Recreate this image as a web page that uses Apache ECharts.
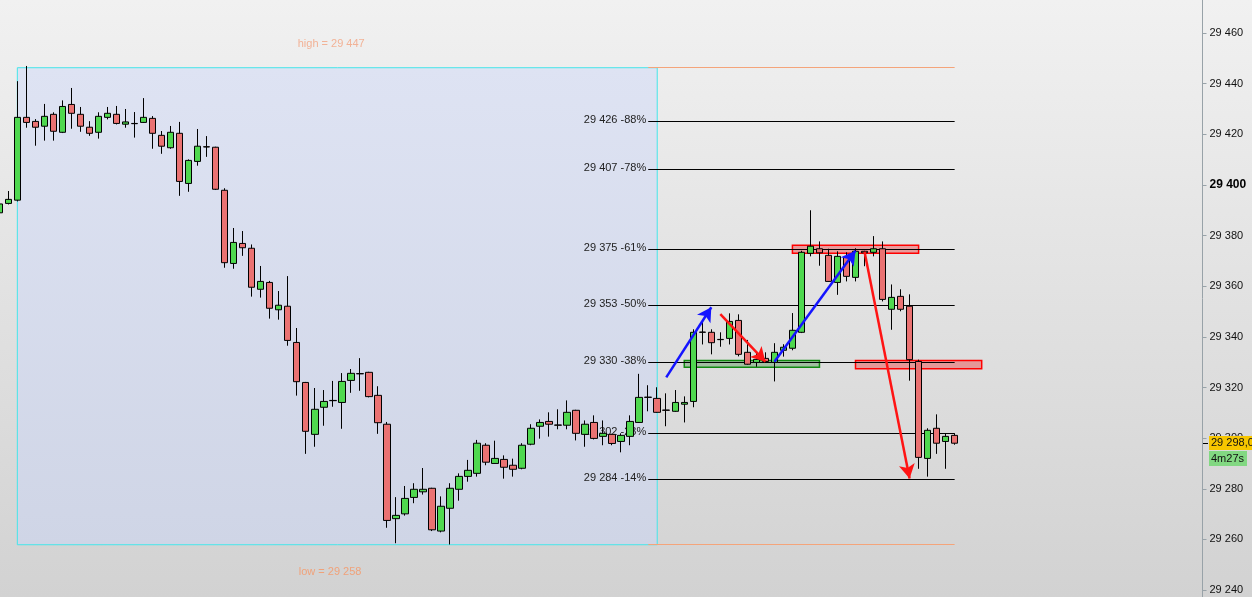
<!DOCTYPE html>
<html><head><meta charset="utf-8">
<script src="https://cdn.jsdelivr.net/npm/echarts/dist/echarts.min.js"></script>
<style>
html,body{margin:0;padding:0;}
#c{width:1252px;height:597px;background:linear-gradient(to bottom,#f1f1f1 0%,#d2d2d2 100%);}
</style>
</head><body><div id="c"></div>
<script>
// ---- data ----
const open = [29389.0,29392.7,29394.0,29426.7,29425.1,29423.2,29427.9,29420.8,29431.8,29427.9,
29422.8,29420.8,29426.7,29427.9,29424.0,29424.3,29424.7,29426.3,29419.6,29414.7,
29420.4,29400.6,29409.3,29415.1,29414.9,29397.9,29369.0,29376.9,29375.0,29358.8,
29361.5,29350.7,29352.1,29337.8,29322.0,29301.5,29312.2,29314.9,29314.1,29322.8,
29325.5,29326.0,29316.9,29305.5,29268.2,29270.1,29276.6,29278.8,29280.2,29263.3,
29272.3,29279.8,29284.9,29286.1,29297.2,29290.0,29291.6,29289.3,29288.1,29297.6,
29304.7,29306.6,29305.2,29305.1,29311.0,29301.5,29306.2,29300.7,29301.5,29298.7,
29300.7,29306.2,29316.2,29315.7,29311.1,29310.6,29313.4,29314.5,29341.9,29341.8,
29339.0,29339.4,29346.5,29333.9,29329.9,29331.5,29329.9,29334.7,29335.5,29341.8,
29373.0,29374.8,29372.2,29361.5,29371.4,29363.5,29373.8,29373.4,29374.8,29350.9,
29356.0,29352.1,29330.3,29292.0,29303.9,29298.7,29301.1];
const close = [29392.5,29394.3,29426.7,29424.7,29422.8,29427.1,29421.2,29431.0,29428.3,29423.2,
29420.4,29427.1,29428.3,29424.3,29424.9,29424.2,29426.7,29420.4,29415.3,29420.8,
29401.4,29409.7,29415.3,29415.0,29398.3,29369.3,29377.3,29375.2,29359.6,29361.9,
29351.3,29352.5,29338.6,29322.3,29302.7,29311.4,29314.5,29314.8,29322.4,29325.6,
29325.4,29316.4,29306.1,29267.5,29269.5,29276.2,29279.8,29279.8,29263.8,29273.1,
29280.2,29284.9,29287.3,29298.0,29290.5,29292.0,29288.5,29287.7,29297.2,29303.9,
29306.2,29305.5,29305.1,29310.2,29301.9,29305.5,29299.9,29301.9,29297.9,29301.1,
29306.6,29316.1,29316.1,29310.2,29311.0,29314.1,29314.1,29341.8,29341.8,29337.7,
29338.9,29346.1,29333.1,29329.2,29331.1,29330.3,29333.9,29335.9,29342.6,29373.4,
29375.8,29373.2,29361.9,29371.8,29363.9,29373.8,29373.2,29374.8,29354.8,29355.6,
29350.9,29331.0,29292.4,29303.1,29298.0,29300.7,29298.0];
const low = [29388.0,29392.3,29393.5,29422.6,29415.5,29417.5,29417.5,29420.5,29422.2,29421.0,
29419.4,29418.3,29425.9,29423.9,29422.6,29418.7,29424.5,29414.3,29412.3,29414.3,
29395.7,29397.3,29407.6,29411.1,29398.0,29367.3,29366.9,29372.0,29355.9,29355.5,
29347.2,29346.8,29336.5,29316.8,29293.8,29296.6,29304.9,29312.4,29303.7,29317.9,
29318.7,29316.1,29301.7,29264.6,29258.5,29269.4,29274.3,29277.7,29263.3,29262.8,
29258.0,29275.3,29282.8,29284.8,29289.3,29289.9,29284.0,29284.8,29287.7,29297.2,
29299.8,29300.6,29303.5,29303.5,29299.1,29296.6,29299.5,29297.2,29297.2,29294.4,
29297.2,29306.0,29310.6,29310.0,29304.7,29310.4,29306.2,29312.2,29337.0,29333.1,
29336.1,29337.0,29332.3,29329.0,29328.2,29330.1,29322.4,29332.2,29334.7,29341.5,
29371.8,29368.1,29361.8,29356.6,29361.9,29361.9,29367.9,29371.8,29354.0,29342.8,
29350.1,29322.7,29287.9,29284.8,29293.8,29287.9,29297.4];
const high = [29393.0,29397.6,29441.0,29447.0,29426.0,29432.0,29428.7,29433.4,29438.3,29430.8,
29425.2,29428.7,29430.8,29431.2,29430.0,29428.8,29434.3,29427.2,29421.3,29423.3,
29424.9,29410.1,29422.1,29419.3,29415.1,29398.7,29383.0,29381.8,29376.5,29368.0,
29362.1,29358.1,29364.0,29343.5,29322.2,29319.8,29319.0,29322.6,29325.7,29327.3,
29331.6,29326.2,29320.5,29306.4,29276.7,29281.1,29282.2,29288.2,29280.4,29277.0,
29282.2,29286.1,29291.4,29299.3,29298.0,29299.0,29293.2,29291.9,29298.0,29305.5,
29307.4,29310.2,29311.4,29314.9,29311.2,29307.0,29309.0,29307.0,29301.7,29301.9,
29309.0,29325.4,29320.9,29320.1,29317.7,29319.0,29316.5,29343.0,29346.8,29343.0,
29341.8,29349.3,29348.9,29338.8,29333.9,29333.9,29337.5,29337.1,29349.4,29374.0,
29390.0,29377.7,29374.8,29373.8,29373.4,29375.0,29374.0,29379.8,29377.7,29360.7,
29358.8,29356.8,29331.0,29303.9,29309.4,29301.9,29301.9];
const slotCount = 134;                       // bar slots on the time axis (incl. empty right side)
const categories = Array.from({length: slotCount}, (_, i) => String(i));
const yTicks = {min: 29220, max: 29480, step: 20};
const rangeHigh = 29446.3, rangeLow = 29257.9;          // drawn level of the high/low box
const rangeHighText = 'high = 29 447', rangeLowText = 'low = 29 258';
const rangeStart = 2, rangeEnd = 73;         // shaded high/low box (bar slots)
const fibStart = 72, fibEnd = 106;
const fibLevels = [29425.2, 29406.3, 29374.7, 29352.6, 29330.1, 29302.0, 29283.9];
const fibLabels = ['29 426 -88%', '29 407 -78%', '29 375 -61%', '29 353 -50%', '29 330 -38%', '29 302 -23%', '29 284 -14%'];
const greenZone = {x: [76, 91], y: [29328, 29330.7]};
const redZones = [{x: [88, 102], y: [29373, 29376.2]}, {x: [95, 109], y: [29327.4, 29330.7]}];
const arrows = [
  {from: [74, 29324.0], to: [79, 29351.7], color: '#1414ff'},
  {from: [80, 29349.0], to: [85, 29330.2], color: '#ff1414'},
  {from: [86, 29330.2], to: [95, 29374.0], color: '#1414ff'},
  {from: [96, 29373.6], to: [101, 29284.1], color: '#ff1414'}
];
const lastPriceText = '29 298,0';
const timerText = '4m27s';

// ---- build ----
const fmt = v => { const s = String(Math.round(v)); return s.slice(0, -3) + ' ' + s.slice(-3); };
const candles = open.map((o, i) => [o, close[i], low[i], high[i]]);
const FONT = 'Liberation Sans, Arial, sans-serif';

const gridLeft = -5.2, gridTop = -17.6, gridW = 1207.7, gridH = 658.3;

const chart = echarts.init(document.getElementById('c'), null, {renderer: 'canvas'});
const option = {
  backgroundColor: 'transparent',
  animation: false,
  grid: {left: gridLeft, top: gridTop, width: gridW, height: gridH, outerBoundsMode: 'none', containLabel: false},
  xAxis: {type: 'category', data: categories, show: false, boundaryGap: true},
  yAxis: {
    type: 'value', position: 'right', min: yTicks.min, max: yTicks.max, interval: yTicks.step,
    scale: true,
    axisLine: {show: true, lineStyle: {color: '#98a2a8', width: 1}},
    axisTick: {show: true, length: 4, lineStyle: {color: '#98a2a8'}},
    splitLine: {show: false},
    axisLabel: {
      margin: 7, color: '#111', fontSize: 11, fontFamily: FONT,
      formatter: v => v === 29400 ? '{b|' + fmt(v) + '}' : fmt(v),
      rich: {b: {fontWeight: 'bold', fontSize: 12, color: '#000', fontFamily: FONT}}
    }
  },
  series: [
    {
      name: 'range', type: 'line', data: [], silent: true,
      markArea: {
        z: 1, silent: true,
        itemStyle: {
          color: {type: 'linear', x: 0, y: 0, x2: 0, y2: 1,
            colorStops: [{offset: 0, color: '#dee3f3'}, {offset: 1, color: '#cfd5e6'}]},
          borderColor: '#45e6ea', borderWidth: 1
        },
        data: [[{coord: [rangeStart, rangeHigh]}, {coord: [rangeEnd, rangeLow]}]]
      },
      markLine: {
        z: 2, silent: true, symbol: ['none', 'none'], label: {show: false},
        lineStyle: {color: '#f4a47a', width: 1, type: 'solid'},
        data: [
          [{coord: [fibStart, rangeHigh]}, {coord: [fibEnd, rangeHigh]}],
          [{coord: [fibStart, rangeLow]}, {coord: [fibEnd, rangeLow]}]
        ]
      }
    },
    {
      name: 'fib', type: 'line', data: [], silent: true,
      markLine: {
        z: 2, silent: true, symbol: ['none', 'none'],
        lineStyle: {color: '#000', width: 1, type: 'solid'},
        label: {show: true, position: 'start', formatter: '{b}', distance: 2, color: '#222',
          fontSize: 11, fontFamily: FONT, offset: [0, -1]},
        emphasis: {disabled: true},
        data: fibLevels.map((v, i) => [
          {name: fibLabels[i], coord: [fibStart, v]},
          {coord: [fibEnd, v]}
        ])
      },
      markArea: {
        z: 2, silent: true,
        data: [
          [{coord: [greenZone.x[0], greenZone.y[1]],
            itemStyle: {color: 'rgba(20,120,20,0.3)', borderColor: '#118a11', borderWidth: 1.5}},
           {coord: [greenZone.x[1], greenZone.y[0]]}]
        ].concat(redZones.map(z => [
          {coord: [z.x[0], z.y[1]], itemStyle: {color: 'rgba(240,40,40,0.38)', borderColor: '#f00', borderWidth: 1.5}},
          {coord: [z.x[1], z.y[0]]}
        ]))
      }
    },
    {
      name: 'price', type: 'candlestick', z: 3, data: candles, barWidth: 7, silent: true,
      itemStyle: {
        color: '#4fd84f', color0: '#ea7272',
        borderColor: '#000', borderColor0: '#000', borderColorDoji: '#000', borderWidth: 1
      }
    },
    {
      name: 'arrows', type: 'line', data: [], silent: true,
      markLine: {
        z: 5, silent: true, symbol: ['none', 'arrow'], symbolSize: [12, 14],
        label: {show: false}, emphasis: {disabled: true},
        data: arrows.map(a => [
          {coord: a.from, lineStyle: {color: a.color, width: 2.5, type: 'solid'}},
          {coord: a.to}
        ])
      }
    }
  ]
};
chart.setOption(option);

// overlay texts / price tags positioned through the chart's own scales
const xPix = i => chart.convertToPixel({xAxisIndex: 0}, i);
const yPix = v => chart.convertToPixel({yAxisIndex: 0}, v);
const axisX = Math.round(gridLeft + gridW);
const yLast = Math.round(yPix(close[close.length - 1]));
chart.setOption({
  graphic: [
    {type: 'text', x: xPix(33) + 1, y: yPix(rangeHigh) - 24, z: 10,
      style: {text: rangeHighText, fill: '#f2b296', font: '11px ' + FONT, textVerticalAlign: 'middle'}},
    {type: 'text', x: xPix(33) + 2, y: yPix(rangeLow) + 27, z: 10,
      style: {text: rangeLowText, fill: '#f0a27a', font: '11px ' + FONT, textVerticalAlign: 'middle'}},
    {type: 'line', z: 10, shape: {x1: axisX, y1: yLast + 0.5, x2: axisX + 5, y2: yLast + 0.5}, style: {stroke: '#000', lineWidth: 1}},
    {type: 'rect', z: 10, shape: {x: axisX + 6, y: yLast - 7, width: 45, height: 14}, style: {fill: '#f7c600'}},
    {type: 'text', z: 11, x: axisX + 8, y: yLast, style: {text: lastPriceText, fill: '#111', font: '11px ' + FONT, textVerticalAlign: 'middle'}},
    {type: 'rect', z: 10, shape: {x: axisX + 6, y: yLast + 8, width: 38, height: 15}, style: {fill: '#82d882'}},
    {type: 'text', z: 11, x: axisX + 8, y: yLast + 15.5, style: {text: timerText, fill: '#111', font: '11px ' + FONT, textVerticalAlign: 'middle'}}
  ]
});
</script>
</body></html>
